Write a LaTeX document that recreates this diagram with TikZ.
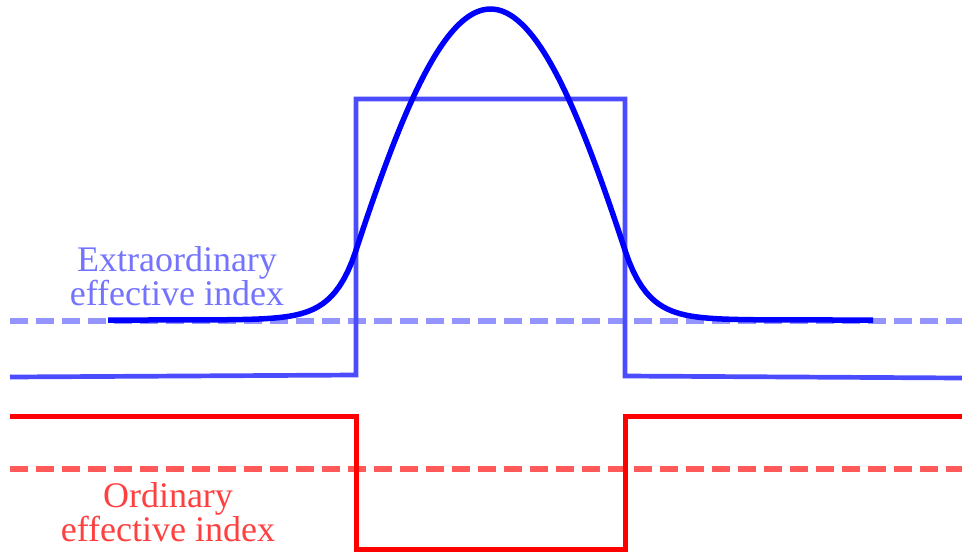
\documentclass[tikz,border=0pt]{standalone}
\usepackage{fontspec}
\setmainfont{Liberation Serif}
\usepackage{tikz}

\begin{document}
\begin{tikzpicture}[x=1pt, y=-1pt,
  stepE/.style={draw=blue!70, line width=4.7pt, line join=miter},
  stepO/.style={draw=red, line width=5pt, line join=miter},
  dashE/.style={draw=blue!42, line width=6pt, dash pattern=on 18pt off 8pt},
  dashO/.style={draw=red!65, line width=6pt, dash pattern=on 18pt off 8pt},
  modecurve/.style={draw=blue, line width=5.5pt},
  lbl/.style={align=center, inner sep=0pt, font=\fontsize{36}{34}\selectfont}]

\useasboundingbox (0,0) rectangle (962,555);

% effective index levels
\draw[dashE] (10,321) -- (962,321);
\draw[dashO] (10,469) -- (962,469);

% extraordinary index profile
\draw[stepE] (10,377) -- (356,375) -- (356,99) -- (625,99) -- (625,376) -- (962,378);

% ordinary index profile
\draw[stepO] (10,416) -- (356,416) -- (356,549) -- (625,549) -- (625,416) -- (962,416);

% guided mode
\draw[modecurve] plot[domain=108:356, samples=60] (\x, {320-69.6*exp(0.0436*(\x-356))})
  -- plot[domain=356:625, samples=90] (\x, {320-311*cos(0.01*(\x-490.5) r)})
  -- plot[domain=625:873, samples=60] (\x, {320-69.6*exp(-0.0436*(\x-625))});

% labels
\node[lbl, text=blue!55] (lblE) at (177,276) {Extraordinary\\effective index};
\node[lbl, text=red!75] (lblO) at (168,512) {Ordinary\\effective index};
\end{tikzpicture}
\end{document}
